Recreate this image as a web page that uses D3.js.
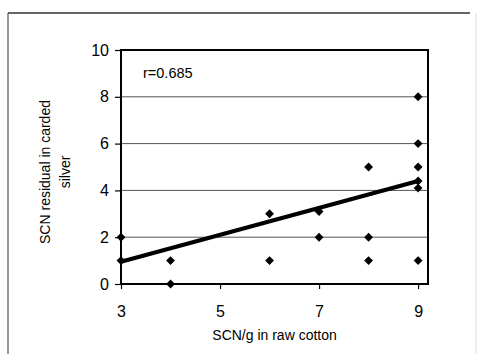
<!DOCTYPE html>
<html>
<head>
<meta charset="utf-8">
<script src="https://cdn.jsdelivr.net/npm/d3@7"></script>
<style>
  body { margin: 0; background: #fff; }
  svg { display: block; font-family: "Liberation Sans", Arial, sans-serif; }
</style>
</head>
<body>
<svg id="chart" width="483" height="354"></svg>
<script>
// values
var xVals = [3, 3, 4, 4, 6, 6, 7, 7, 8, 8, 8, 9, 9, 9, 9, 9, 9];
var yVals = [2, 1, 1, 0, 3, 1, 3.1, 2, 5, 2, 1, 8, 6, 5, 4.4, 4.1, 1];
var trendX = [3, 9];
var trendY = [0.95, 4.4];
var xTicks = [3, 5, 7, 9];
var yTicks = [0, 2, 4, 6, 8, 10];
var gridVals = [2, 4, 6, 8];
var rLabel = "r=0.685";

var svg = d3.select("#chart");

// plot area
var plotL = 121, plotR = 428, plotT = 50, plotB = 284;

var x = d3.scaleLinear().domain([3, 9.2]).range([plotL, plotR]);
var y = d3.scaleLinear().domain([0, 10]).range([plotB, plotT]);

// outer frame (scan edges)
svg.append("line")
	.attr("x1", 8).attr("x2", 8).attr("y1", 13).attr("y2", 354)
	.attr("stroke", "#999").attr("stroke-width", 2);
svg.append("line")
	.attr("x1", 8).attr("x2", 470).attr("y1", 13).attr("y2", 13)
	.attr("stroke", "#333").attr("stroke-width", 1.5);
svg.append("line")
	.attr("x1", 476).attr("x2", 476).attr("y1", 13).attr("y2", 354)
	.attr("stroke", "#eee").attr("stroke-width", 2);

// gridlines
svg.append("g")
	.selectAll("line")
	.data(gridVals).enter()
	.append("line")
	.attr("x1", plotL).attr("x2", plotR)
	.attr("y1", function (d) { return y(d); })
	.attr("y2", function (d) { return y(d); })
	.attr("stroke", "#555").attr("stroke-width", 1);

// axes
var yAxis = d3.axisLeft(y).tickValues(yTicks).tickSize(6).tickPadding(6)
	.tickFormat(d3.format("d"));
var xAxis = d3.axisBottom(x).tickValues(xTicks).tickSize(5).tickPadding(17)
	.tickFormat(d3.format("d"));

var gy = svg.append("g")
	.attr("transform", "translate(" + plotL + ",0)")
	.call(yAxis);
var gx = svg.append("g")
	.attr("transform", "translate(0," + plotB + ")")
	.call(xAxis);

[gx, gy].forEach(function (g) {
	g.select(".domain").remove();
	g.selectAll("line").attr("stroke", "#000").attr("stroke-width", 1.2);
	g.selectAll("text").attr("fill", "#000").style("font-size", "16px");
});

// plot border
svg.append("rect")
	.attr("x", plotL).attr("y", plotT)
	.attr("width", plotR - plotL).attr("height", plotB - plotT)
	.attr("fill", "none").attr("stroke", "#000").attr("stroke-width", 2);

// trend line
var line = d3.line()
	.x(function (d) { return x(d[0]); })
	.y(function (d) { return y(d[1]); });
svg.append("path")
	.datum(d3.zip(trendX, trendY))
	.attr("d", line)
	.attr("fill", "none").attr("stroke", "#000").attr("stroke-width", 4);

// points
svg.append("g")
	.selectAll("path")
	.data(d3.zip(xVals, yVals)).enter()
	.append("path")
	.attr("transform", function (d) { return "translate(" + x(d[0]) + "," + y(d[1]) + ")"; })
	.attr("d", d3.symbol().type(d3.symbolDiamond2).size(50))
	.attr("fill", "#000");

// labels
svg.append("text")
	.attr("x", 143).attr("y", 78)
	.style("font-size", "14.5px").attr("fill", "#000")
	.text(rLabel);

svg.append("text")
	.attr("x", (plotL + x(9)) / 2 + 5).attr("y", 340)
	.attr("text-anchor", "middle")
	.style("font-size", "14px").attr("fill", "#000")
	.text("SCN/g in raw cotton");

var yt = svg.append("text")
	.attr("transform", "translate(50,172) rotate(-90)")
	.attr("text-anchor", "middle")
	.style("font-size", "14px").attr("fill", "#000");
yt.append("tspan").attr("x", 0).attr("dy", 0).text("SCN residual in carded");
yt.append("tspan").attr("x", 0).attr("dy", 20).text("silver");
</script>
</body>
</html>
